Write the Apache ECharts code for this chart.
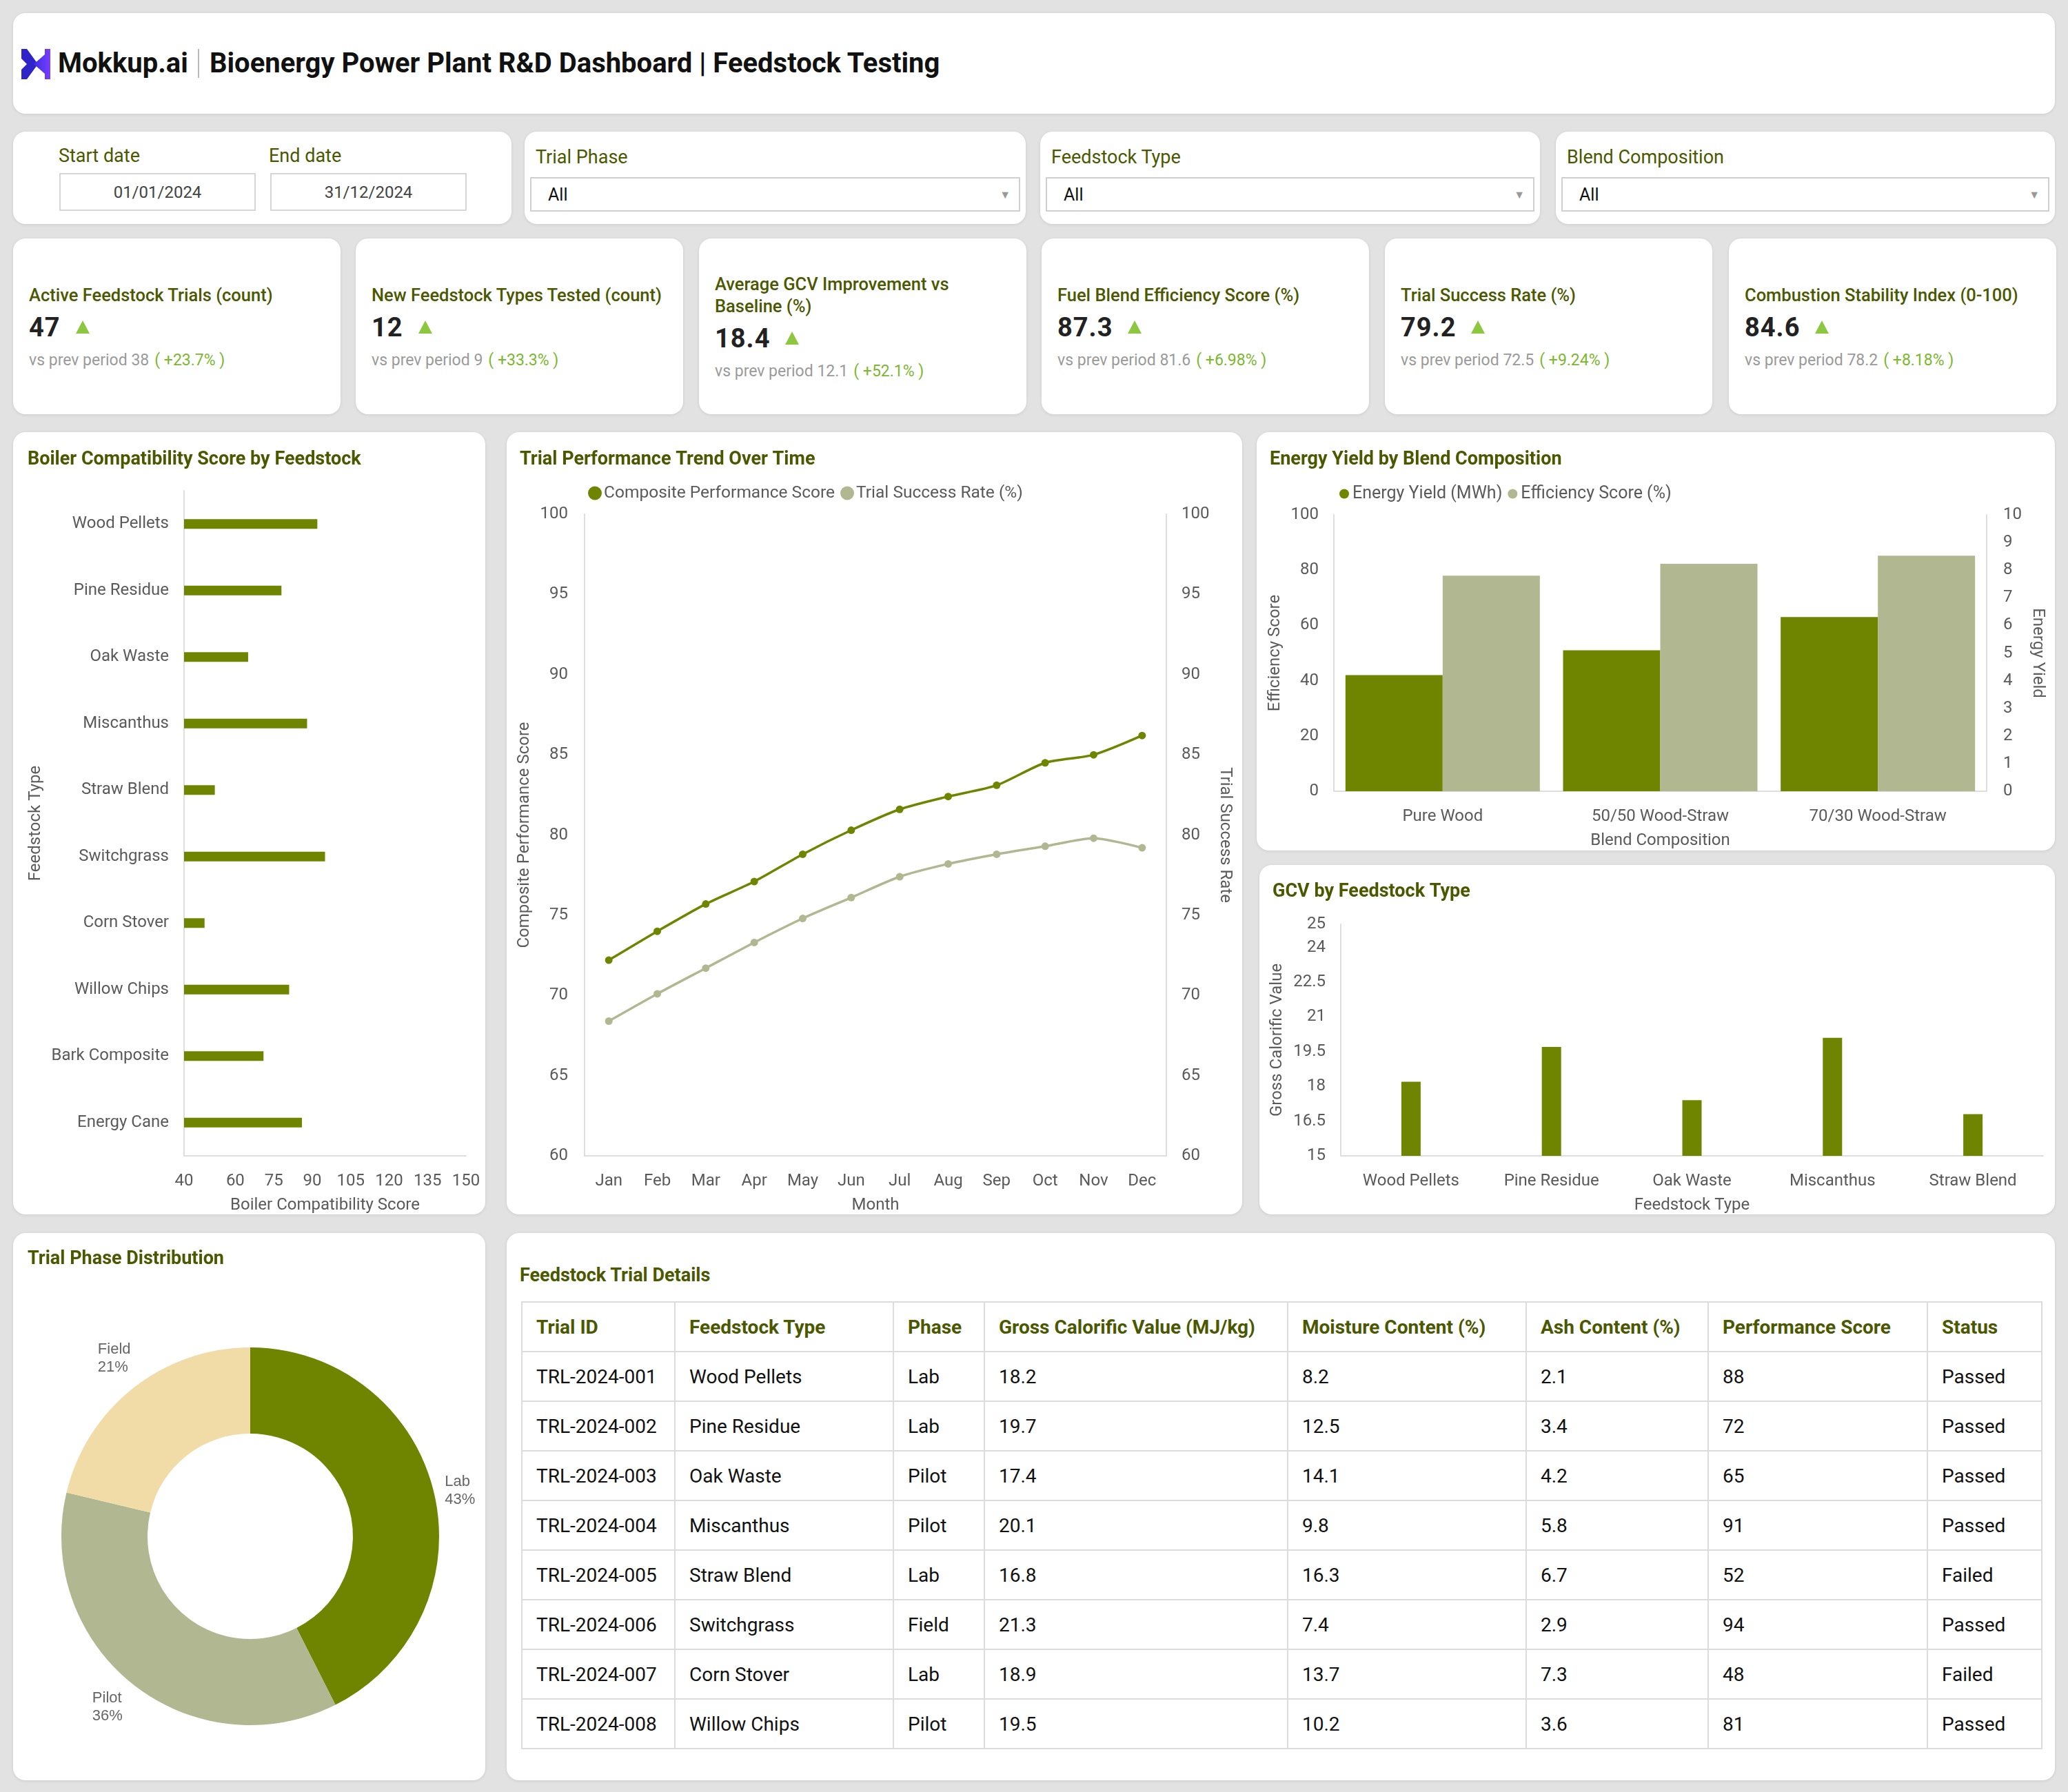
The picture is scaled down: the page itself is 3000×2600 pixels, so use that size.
<!DOCTYPE html>
<html><head><meta charset="utf-8">
<script src="https://cdn.jsdelivr.net/npm/echarts@6/dist/echarts.min.js"></script>
<style>
html,body{margin:0;padding:0;}
body{width:3000px;height:2600px;background:#e2e2e2;font-family:Roboto,'Noto Sans',sans-serif;position:relative;overflow:hidden;}
.card{position:absolute;background:#fff;border-radius:18px;box-shadow:0 1px 4px rgba(0,0,0,0.10);box-sizing:border-box;}
.chart{position:absolute;left:0;top:0;width:100%;height:100%;}
.flabel{position:absolute;font-size:27px;color:#4b5800;}
.dbox{position:absolute;border:2px solid #d6d6d6;box-sizing:border-box;font-size:24px;color:#444;text-align:center;display:flex;align-items:center;justify-content:center;}
.sel{position:absolute;border:2px solid #d0d0d0;box-sizing:border-box;font-size:25px;color:#111;display:flex;align-items:center;padding-left:24px;}
.sel .arr{position:absolute;right:12px;top:50%;transform:translateY(-50%);font-size:16px;color:#999;}
.kpi{top:346px;width:475px;height:255px;display:flex;flex-direction:column;justify-content:center;padding-left:23px;padding-right:20px;}
.kt{font-size:25.5px;font-weight:500;color:#4b5800;line-height:32px;}
.kv{font-size:38px;font-weight:700;color:#222;margin-top:9px;line-height:44px;letter-spacing:1px;}
.kv .up{display:inline-block;width:0;height:0;border-left:10px solid transparent;border-right:10px solid transparent;border-bottom:19px solid #8dc63f;margin-left:22px;vertical-align:4px;}
.kp{font-size:23px;color:#9a9a9a;margin-top:12px;}
.kp .pct{color:#7cb82f;margin-left:8px;}
table{border-collapse:collapse;position:absolute;left:21px;top:99px;table-layout:fixed;}
td,th{border:2px solid #dcdcdc;height:70px;padding:0 0 0 20px;text-align:left;font-size:28px;color:#111;font-weight:400;}
th{color:#4b5800;font-weight:700;font-size:28px;}
</style></head>
<body>
<!-- header -->
<div class="card" style="left:19px;top:19px;width:2962px;height:146px;">
  <svg style="position:absolute;left:12px;top:52px" width="42" height="44" viewBox="0 0 42 44">
    <defs><linearGradient id="lg" x1="0" x2="1" y1="0" y2="0"><stop offset="0" stop-color="#3a2fe0"/><stop offset="1" stop-color="#7b3cff"/></linearGradient></defs>
    <polygon points="0,0 8,0 24,22 8,44 0,44 0,30 8,22 0,14" fill="#2f24c8"/>
    <polygon points="42,0 42,44 34,44 34,36 18,22 34,8 34,0" fill="url(#lg)"/>
  </svg>
  <div style="position:absolute;left:65px;top:49px;font-size:40px;font-weight:700;color:#111;line-height:48px;">Mokkup.ai</div>
  <div style="position:absolute;left:268px;top:52px;width:2px;height:42px;background:#bbb;"></div>
  <div style="position:absolute;left:285px;top:49px;font-size:40px;font-weight:700;color:#111;line-height:48px;">Bioenergy Power Plant R&amp;D Dashboard | Feedstock Testing</div>
</div>
<!-- filters -->
<div class="card" style="left:19px;top:191px;width:723px;height:134px;">
  <div class="flabel" style="left:66px;top:19px;">Start date</div>
  <div class="dbox" style="left:67px;top:60px;width:285px;height:55px;">01/01/2024</div>
  <div class="flabel" style="left:371px;top:19px;">End date</div>
  <div class="dbox" style="left:373px;top:60px;width:285px;height:55px;">31/12/2024</div>
</div>
<div class="card" style="left:761px;top:191px;width:727px;height:134px;">
  <div class="flabel" style="left:16px;top:21px;">Trial Phase</div>
  <div class="sel" style="left:8px;top:66px;width:711px;height:50px;">All<span class="arr">▼</span></div>
</div>
<div class="card" style="left:1509px;top:191px;width:725px;height:134px;">
  <div class="flabel" style="left:16px;top:21px;">Feedstock Type</div>
  <div class="sel" style="left:8px;top:66px;width:709px;height:50px;">All<span class="arr">▼</span></div>
</div>
<div class="card" style="left:2257px;top:191px;width:724px;height:134px;">
  <div class="flabel" style="left:16px;top:21px;">Blend Composition</div>
  <div class="sel" style="left:8px;top:66px;width:708px;height:50px;">All<span class="arr">▼</span></div>
</div>
<div id="kpis"></div>
<!-- charts -->
<div class="card" style="left:19px;top:627px;width:685px;height:1135px;"><div class="chart" id="c_boiler"></div></div>
<div class="card" style="left:735px;top:627px;width:1067px;height:1135px;"><div class="chart" id="c_trend"></div></div>
<div class="card" style="left:1823px;top:627px;width:1158px;height:607px;"><div class="chart" id="c_energy"></div></div>
<div class="card" style="left:1827px;top:1255px;width:1154px;height:507px;"><div class="chart" id="c_gcv"></div></div>
<div class="card" style="left:19px;top:1789px;width:685px;height:794px;"><div class="chart" id="c_pie"></div></div>
<div class="card" style="left:735px;top:1789px;width:2246px;height:794px;" id="tableCard">
  <div style="position:absolute;left:19px;top:45px;font-size:27px;font-weight:700;color:#4b5800;">Feedstock Trial Details</div>
</div>
<script>
// ---------- data ----------
const kpiTitles = ['Active Feedstock Trials (count)','New Feedstock Types Tested (count)','Average GCV Improvement vs Baseline (%)','Fuel Blend Efficiency Score (%)','Trial Success Rate (%)','Combustion Stability Index (0-100)'];
const kpiValues = ['47','12','18.4','87.3','79.2','84.6'];
const kpiPrev = ['38','9','12.1','81.6','72.5','78.2'];
const kpiChange = ['+23.7%','+33.3%','+52.1%','+6.98%','+9.24%','+8.18%'];
const kpiLefts = [19,516,1014,1511,2009,2508];

const boilerCats = ['Wood Pellets','Pine Residue','Oak Waste','Miscanthus','Straw Blend','Switchgrass','Corn Stover','Willow Chips','Bark Composite','Energy Cane'];
const boilerScores = [92,78,65,88,52,95,48,81,71,86];
const boilerTicks = [40,60,75,90,105,120,135,150];

const months = ['Jan','Feb','Mar','Apr','May','Jun','Jul','Aug','Sep','Oct','Nov','Dec'];
const compositeScore = [72.2,74.0,75.7,77.1,78.8,80.3,81.6,82.4,83.1,84.5,85.0,86.2];
const successRate = [68.4,70.1,71.7,73.3,74.8,76.1,77.4,78.2,78.8,79.3,79.8,79.2];

const blendCats = ['Pure Wood','50/50 Wood-Straw','70/30 Wood-Straw'];
const energyYield = [4.2,5.1,6.3];
const efficiencyScore = [78,82.3,85.2];

const gcvCats = ['Wood Pellets','Pine Residue','Oak Waste','Miscanthus','Straw Blend'];
const gcvValues = [18.2,19.7,17.4,20.1,16.8];

const phaseNames = ['Lab','Pilot','Field'];
const phaseCounts = [20,17,10];

const tableHeaders = ['Trial ID','Feedstock Type','Phase','Gross Calorific Value (MJ/kg)','Moisture Content (%)','Ash Content (%)','Performance Score','Status'];
const tableRows = [
 ['TRL-2024-001','Wood Pellets','Lab','18.2','8.2','2.1','88','Passed'],
 ['TRL-2024-002','Pine Residue','Lab','19.7','12.5','3.4','72','Passed'],
 ['TRL-2024-003','Oak Waste','Pilot','17.4','14.1','4.2','65','Passed'],
 ['TRL-2024-004','Miscanthus','Pilot','20.1','9.8','5.8','91','Passed'],
 ['TRL-2024-005','Straw Blend','Lab','16.8','16.3','6.7','52','Failed'],
 ['TRL-2024-006','Switchgrass','Field','21.3','7.4','2.9','94','Passed'],
 ['TRL-2024-007','Corn Stover','Lab','18.9','13.7','7.3','48','Failed'],
 ['TRL-2024-008','Willow Chips','Pilot','19.5','10.2','3.6','81','Passed']
];
const colWidths = [222,317,132,440,346,264,318,166];

// ---------- KPI cards ----------
(function(){
  let h='';
  for(let i=0;i<kpiTitles.length;i++){
    const twoLine = i===2;
    h+=`<div class="card kpi" style="left:${kpiLefts[i]}px"><div class="kt" style="${twoLine?'width:380px':''}">${kpiTitles[i]}</div>`+
       `<div class="kv">${kpiValues[i]}<span class="up"></span></div>`+
       `<div class="kp">vs prev period ${kpiPrev[i]}<span class="pct">( ${kpiChange[i]} )</span></div></div>`;
  }
  document.getElementById('kpis').innerHTML=h;
})();

// ---------- table ----------
(function(){
  let h='<table><colgroup>'+colWidths.map(w=>`<col style="width:${w}px">`).join('')+'</colgroup><tr>'+tableHeaders.map(t=>`<th>${t}</th>`).join('')+'</tr>';
  tableRows.forEach(r=>{h+='<tr>'+r.map(c=>`<td>${c}</td>`).join('')+'</tr>';});
  h+='</table>';
  document.getElementById('tableCard').insertAdjacentHTML('beforeend',h);
})();

// ---------- charts ----------
const DARK='#6f8500', LIGHT='#b1b891', FIELD='#f1dca8';
const TXT='#5a5a5a', AXL='#dedede', TITLE='#4b5800';
const FF='Roboto';
const titleStyle={fontSize:27,fontWeight:'bold',color:TITLE,fontFamily:FF};
const lab={fontSize:24,color:TXT,fontFamily:FF};
const nameStyle={fontSize:24,color:TXT,fontFamily:FF};
const ttl=(text,top)=>({text,left:21,top:top,padding:0,textStyle:titleStyle});

// Boiler
echarts.init(document.getElementById('c_boiler')).setOption({
  animation:false,
  title:ttl('Boiler Compatibility Score by Feedstock',27),
  grid:{left:248,right:28,top:85,bottom:85,outerBoundsMode:'none'},
  xAxis:{type:'value',min:40,max:150,interval:5,name:'Boiler Compatibility Score',nameLocation:'middle',nameGap:60,nameTextStyle:nameStyle,
    axisLine:{show:true,lineStyle:{color:AXL,width:2}},axisTick:{show:false},splitLine:{show:false},
    axisLabel:Object.assign({margin:25,formatter:v=>boilerTicks.indexOf(v)>=0?String(v):''},lab)},
  yAxis:{type:'category',inverse:true,data:boilerCats,name:'Feedstock Type',nameLocation:'middle',nameGap:201,nameRotate:90,nameTextStyle:nameStyle,
    axisLine:{show:true,lineStyle:{color:AXL,width:2}},axisTick:{show:false},axisLabel:Object.assign({margin:22},lab)},
  series:[{type:'bar',data:boilerScores,barWidth:14,itemStyle:{color:DARK}}]
});

// Trend
echarts.init(document.getElementById('c_trend')).setOption({
  animation:false,
  title:Object.assign(ttl('Trial Performance Trend Over Time',27),{left:19}),
  legend:{left:118,top:76,padding:0,icon:'circle',itemWidth:20,itemHeight:20,itemGap:8,textStyle:{fontSize:24.5,color:TXT,fontFamily:FF,padding:[0,0,0,-2]}},
  grid:{left:113,right:110,top:119,bottom:85,outerBoundsMode:'none'},
  xAxis:{type:'category',data:months,name:'Month',nameLocation:'middle',nameGap:60,nameTextStyle:nameStyle,
    axisLine:{lineStyle:{color:AXL,width:2}},axisTick:{show:false},axisLabel:Object.assign({margin:25},lab)},
  yAxis:[
    {type:'value',min:60,max:100,interval:5,name:'Composite Performance Score',nameLocation:'middle',nameGap:61,nameRotate:90,nameTextStyle:nameStyle,
      axisLine:{show:true,lineStyle:{color:AXL,width:2}},axisTick:{show:false},splitLine:{show:false},axisLabel:Object.assign({margin:24},lab)},
    {type:'value',min:60,max:100,interval:5,position:'right',name:'Trial Success Rate',nameLocation:'middle',nameGap:58,nameRotate:-90,nameTextStyle:nameStyle,
      axisLine:{show:true,lineStyle:{color:AXL,width:2}},axisTick:{show:false},splitLine:{show:false},axisLabel:Object.assign({margin:22},lab)}
  ],
  series:[
    {name:'Composite Performance Score',type:'line',data:compositeScore,smooth:0.25,symbol:'circle',symbolSize:11,lineStyle:{width:3.5,color:DARK},itemStyle:{color:DARK}},
    {name:'Trial Success Rate (%)',type:'line',yAxisIndex:1,data:successRate,smooth:0.25,symbol:'circle',symbolSize:11,lineStyle:{width:3.5,color:LIGHT},itemStyle:{color:LIGHT}}
  ]
});

// Energy
echarts.init(document.getElementById('c_energy')).setOption({
  animation:false,
  title:Object.assign(ttl('Energy Yield by Blend Composition',27),{left:19}),
  legend:{left:120,top:77,padding:0,icon:'circle',itemWidth:14,itemHeight:14,itemGap:8,textStyle:{fontSize:25,color:TXT,fontFamily:FF}},
  grid:{left:112,right:99,top:120,bottom:86,outerBoundsMode:'none'},
  xAxis:{type:'category',data:blendCats,name:'Blend Composition',nameLocation:'middle',nameGap:60,nameTextStyle:nameStyle,
    axisLine:{lineStyle:{color:AXL,width:2}},axisTick:{show:false},axisLabel:Object.assign({margin:25},lab)},
  yAxis:[
    {type:'value',min:0,max:100,interval:20,name:'Efficiency Score',nameLocation:'middle',nameGap:61,nameRotate:90,nameTextStyle:nameStyle,
      axisLine:{show:true,lineStyle:{color:AXL,width:2}},axisTick:{show:false},splitLine:{show:false},axisLabel:Object.assign({margin:22},lab)},
    {type:'value',min:0,max:10,interval:1,position:'right',name:'Energy Yield',nameLocation:'middle',nameGap:46,nameRotate:-90,nameTextStyle:nameStyle,
      axisLine:{show:true,lineStyle:{color:AXL,width:2}},axisTick:{show:false},splitLine:{show:false},axisLabel:Object.assign({margin:24},lab)}
  ],
  series:[
    {name:'Energy Yield (MWh)',type:'bar',yAxisIndex:1,data:energyYield,barWidth:141,barGap:'0%',itemStyle:{color:DARK}},
    {name:'Efficiency Score (%)',type:'bar',yAxisIndex:0,data:efficiencyScore,barWidth:141,barGap:'0%',itemStyle:{color:LIGHT}}
  ]
});

// GCV
echarts.init(document.getElementById('c_gcv')).setOption({
  animation:false,
  title:Object.assign(ttl('GCV by Feedstock Type',26),{left:19}),
  grid:{left:118,right:17,top:86,bottom:85,outerBoundsMode:'none'},
  xAxis:{type:'category',data:gcvCats,name:'Feedstock Type',nameLocation:'middle',nameGap:60,nameTextStyle:nameStyle,
    axisLine:{lineStyle:{color:AXL,width:2}},axisTick:{show:false},axisLabel:Object.assign({margin:25},lab)},
  yAxis:{type:'value',min:15,max:25,interval:1.5,name:'Gross Calorific Value',nameLocation:'middle',nameGap:67,nameRotate:90,nameTextStyle:nameStyle,
    axisLine:{show:true,lineStyle:{color:AXL,width:2}},axisTick:{show:false},splitLine:{show:false},axisLabel:Object.assign({margin:22},lab)},
  series:[{type:'bar',data:gcvValues,barWidth:28,itemStyle:{color:DARK}}]
});

// Pie
const pieData = phaseNames.map((n,i)=>({name:n,value:phaseCounts[i]}));
const pieLabelOffsets = [[-9,9],[-6,-6],[2,-5]];
const pieLabelData = phaseNames.map((n,i)=>({name:n,value:phaseCounts[i],label:{offset:pieLabelOffsets[i]}}));
echarts.init(document.getElementById('c_pie')).setOption({
  animation:false,
  title:ttl('Trial Phase Distribution',25),
  color:[DARK,LIGHT,FIELD],
  series:[
    {type:'pie',center:[344,440],radius:[149,274],startAngle:90,clockwise:true,data:pieData,label:{show:false},labelLine:{show:false},silent:true},
    {type:'pie',center:[344,440],radius:[300,340],startAngle:90,clockwise:true,data:pieLabelData,percentPrecision:0,silent:true,
      itemStyle:{color:'rgba(0,0,0,0)'},labelLine:{show:false},
      label:{show:true,position:'inside',formatter:'{t|{b}}\n{t|{d}%}',rich:{t:{width:46,align:'left',fontSize:22,lineHeight:26,color:'#666'}}}}
  ]
});
</script>
</body></html>
